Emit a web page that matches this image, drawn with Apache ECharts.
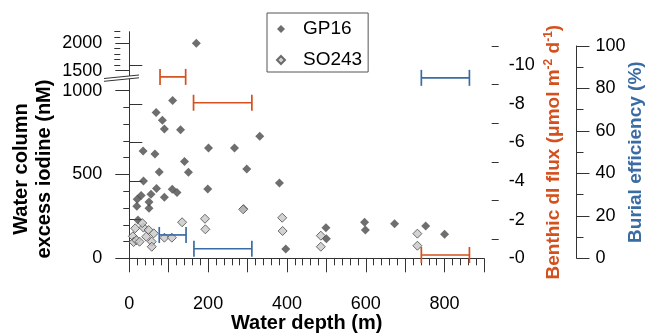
<!DOCTYPE html>
<html>
<head>
<meta charset="utf-8">
<script src="https://cdn.jsdelivr.net/npm/echarts@6/dist/echarts.min.js"></script>
<style>
html,body{margin:0;padding:0;background:#fff;}
#c{width:647px;height:335px;}
</style>
</head>
<body>
<div id="c"></div>
<script>
// ---- data ----
var gp16Lower = [[110,942],[68,870],[84,823],[89,771],[130,767],[331,728],[35,640],[65,622],[201,658],[267,658],[140,577],[76,515],[150,513],[298,533],[36,461],[69,416],[109,412],[121,392],[199,413],[381,449],[30,374],[55,382],[20,352],[89,364],[19,310],[50,336],[50,298],[22,229],[290,296],[499,183],[500,117],[397,55],[597,215],[599,169],[673,206],[752,193],[800,143]];
var gp16Upper = [[170,1990]];
var so243 = [[289,292],[388,242],[389,163],[486,135],[486,69],[192,236],[193,173],[134,215],[89,123],[108,123],[731,147],[731,75],[15,179],[36,183],[49,169],[62,149],[9,131],[43,129],[11,97],[18,108],[26,99],[57,99],[57,69],[33,210]];
// benthic flux bars: [depthLow, depthHigh, flux]
var fluxBars = [[78,143,-9.4],[163,311,-8.06],[741,863,-0.17]];
// burial efficiency bars: [depthLow, depthHigh, percent]
var burialBars = [[741,863,85],[76,144,11],[164,311,4.5]];

var xMajor = [0,100,200,300,400,500,600,700,800,900];
var xLabels = [0,200,400,600,800];
var xMinor = [];
for (var i=0;i<=900;i+=20){ if (i%100!==0) xMinor.push(i); }
var yLowMajor = [0,500,1000];
var yLowMinor = [100,200,300,400,600,700,800,900];
var yUpMajor = [1500,2000];
var yUpMinor = [1600,1700,1800,1900,2100,2200];
var fluxMajor = [0,-2,-4,-6,-8,-10];
var fluxMinor = [-1,-3,-5,-7,-9,-11];
var burMajor = [0,20,40,60,80,100];
var burMinor = [10,30,50,70,90];

var ORANGE = '#d4501d';
var BLUE = '#3a6ca4';
var AX = '#333';
var FONT = 'Liberation Sans, Arial, sans-serif';

var chart = echarts.init(document.getElementById('c'), null, {renderer:'canvas'});

var GL = 129.3, GW = 354.7;
var grids = [
  {left:GL, width:GW, top:79.8, height:178.5, outerBoundsMode:'none', containLabel:false},
  {left:GL, width:GW, top:31.7, height:44.4, outerBoundsMode:'none', containLabel:false},
  {left:GL, width:GW, top:46, height:212.3, outerBoundsMode:'none', containLabel:false}
];

function plain(v){ return String(v); }

function tickAxis(base, vals, len, showLine, labels){
  var o = Object.assign({}, base);
  o.axisLine = {show: showLine, lineStyle:{color:AX, width:1}};
  o.axisTick = {show:true, customValues: vals, length: len, lineStyle:{color:AX, width:1}};
  o.splitLine = {show:false};
  o.nameMoveOverlap = false;
  if (labels) {
    o.axisLabel = Object.assign({show:true, customValues: labels, fontSize:18, color:'#000', fontFamily:FONT, formatter:plain}, base.labelExtra || {});
  } else {
    o.axisLabel = {show:false};
  }
  delete o.labelExtra;
  return o;
}

var xBase = {type:'value', gridIndex:0, position:'bottom', offset:14.7, min:0, max:900, interval:100, labelExtra:{margin:22}};
var xAxes = [
  Object.assign(tickAxis(xBase, xMajor, 14, true, xLabels), {
    name:'Water depth (m)', nameLocation:'middle', nameGap:40,
    nameTextStyle:{fontSize:20, fontWeight:'bold', color:'#000', fontFamily:FONT}
  }),
  tickAxis(xBase, xMinor, 7, false, null),
  {type:'value', gridIndex:1, min:0, max:900, show:false},
  {type:'value', gridIndex:2, min:0, max:900, show:false}
];

var yLowBase = {type:'value', gridIndex:0, position:'left', offset:9, min:0, max:1065, interval:500, labelExtra:{margin:18}};
var yUpBase = {type:'value', gridIndex:1, position:'left', offset:9, min:1400, max:2200, interval:100, labelExtra:{margin:18}};
var fluxBase = {type:'value', gridIndex:2, position:'right', offset:7.7, min:-11, max:0, interval:1, inverse:true,
  labelExtra:{margin:17, formatter:function(v){return v===0?'-0':String(v);}}};
var burBase = {type:'value', gridIndex:2, position:'right', offset:92.5, min:0, max:100, interval:10, labelExtra:{margin:19}};

var yAxes = [
  Object.assign(tickAxis(yLowBase, yLowMajor, 14, true, yLowMajor), {
    name:'Water column\nexcess iodine (nM)', nameLocation:'middle', nameGap:64, nameRotate:90,
    nameTextStyle:{fontSize:20, fontWeight:'bold', color:'#000', lineHeight:23, align:'center', fontFamily:FONT}
  }),
  tickAxis(yLowBase, yLowMinor, 6, false, null),
  tickAxis(yUpBase, yUpMajor, 14, true, yUpMajor),
  tickAxis(yUpBase, yUpMinor, 6, false, null),
  Object.assign(tickAxis(fluxBase, fluxMajor, 13, true, fluxMajor), {
    name:'Benthic dI flux (μmol m{s|-2} d{s|-1})', nameLocation:'middle', nameGap:51, nameRotate:90,
    nameTextStyle:{fontSize:19, fontWeight:'bold', color:ORANGE, fontFamily:FONT, lineHeight:22,
      rich:{s:{fontSize:12, fontWeight:'bold', color:ORANGE, fontFamily:FONT, verticalAlign:'top', lineHeight:22}}}
  }),
  tickAxis(fluxBase, fluxMinor, 7, false, null),
  Object.assign(tickAxis(burBase, burMajor, 13, true, burMajor), {
    name:'Burial efficiency (%)', nameLocation:'middle', nameGap:50, nameRotate:90,
    nameTextStyle:{fontSize:19, fontWeight:'bold', color:BLUE, fontFamily:FONT}
  }),
  tickAxis(burBase, burMinor, 7, false, null)
];

function errBar(color){
  return function(params, api){
    var y = api.value(2);
    var p1 = api.coord([api.value(0), y]);
    var p2 = api.coord([api.value(1), y]);
    var h = 8;
    var st = {stroke:color, lineWidth:1.7};
    return {type:'group', children:[
      {type:'line', shape:{x1:p1[0],y1:p1[1],x2:p2[0],y2:p2[1]}, style:st},
      {type:'line', shape:{x1:p1[0],y1:p1[1]-h,x2:p1[0],y2:p1[1]+h}, style:st},
      {type:'line', shape:{x1:p2[0],y1:p2[1]-h,x2:p2[0],y2:p2[1]+h}, style:st}
    ]};
  };
}

var gpStyle = {color:'#4a4a4a'};
var soStyle = {color:'#c8c8c8', borderColor:'#4a4a4a', borderWidth:1};

var option = {
  animation:false,
  grid: grids,
  xAxis: xAxes,
  yAxis: yAxes,
  legend: {
    data:['GP16','SO243'], orient:'vertical', left:267, top:13,
    padding:[6.5,6,2.5,9], itemGap:12, itemWidth:8, itemHeight:8,
    borderColor:'#555', borderWidth:1, borderRadius:0,
    textStyle:{fontSize:19, color:'#000', fontFamily:FONT, padding:[0,0,0,13]},
    selectedMode:false
  },
  graphic: [
    {type:'polygon', shape:{points:[[104,78.5],[139,75],[139,77.8],[104,81.3]]}, style:{fill:'#fff'}, z:100},
    {type:'line', shape:{x1:104,y1:78.5,x2:139,y2:75}, style:{stroke:AX, lineWidth:1}, z:101},
    {type:'line', shape:{x1:104,y1:81.3,x2:139,y2:77.8}, style:{stroke:AX, lineWidth:1}, z:101}
  ],
  series: [
    {name:'GP16', type:'scatter', xAxisIndex:0, yAxisIndex:0, symbol:'diamond', symbolSize:9, data:gp16Lower, itemStyle:gpStyle, z:3},
    {name:'GP16', type:'scatter', xAxisIndex:2, yAxisIndex:2, symbol:'diamond', symbolSize:9, data:gp16Upper, itemStyle:gpStyle, z:3},
    {name:'SO243', type:'scatter', xAxisIndex:0, yAxisIndex:0, symbol:'diamond', symbolSize:9, data:so243, itemStyle:soStyle, z:4},
    {name:'flux', type:'custom', xAxisIndex:3, yAxisIndex:4, data:fluxBars, encode:{x:[0,1], y:2}, renderItem:errBar(ORANGE), z:5},
    {name:'burial', type:'custom', xAxisIndex:3, yAxisIndex:6, data:burialBars, encode:{x:[0,1], y:2}, renderItem:errBar(BLUE), z:5}
  ]
};
chart.setOption(option);
</script>
</body>
</html>
